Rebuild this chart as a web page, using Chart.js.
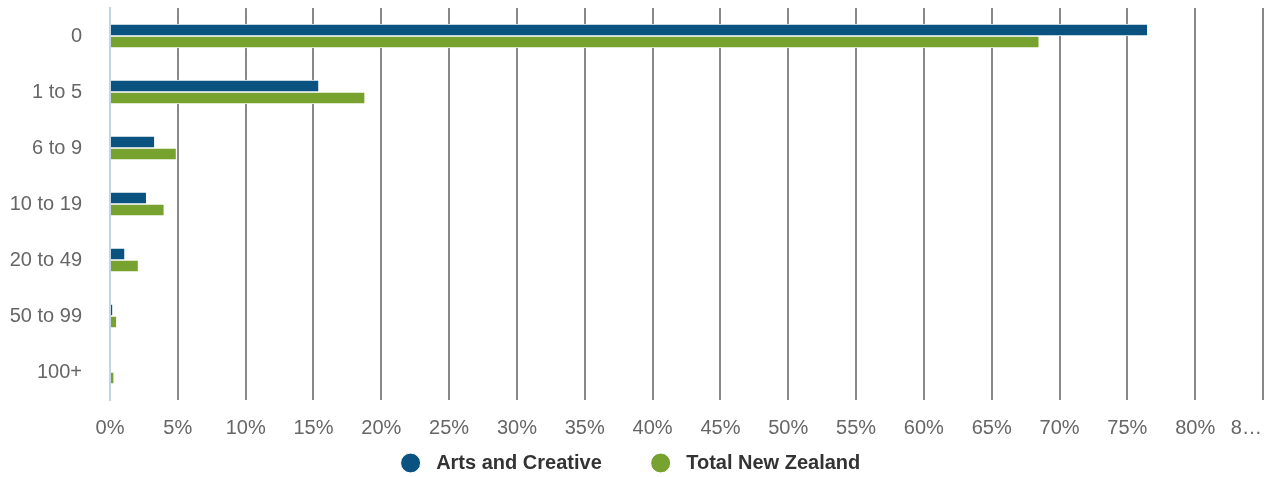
<!DOCTYPE html>
<html>
<head>
<meta charset="utf-8">
<script src="https://cdn.jsdelivr.net/npm/chart.js@4/dist/chart.umd.min.js"></script>
<style>
  html, body { margin: 0; padding: 0; background: #fff; }
  #wrap { width: 1267px; height: 477px; position: relative; }
</style>
</head>
<body>
<div id="wrap"><canvas id="barChart"></canvas></div>
<script>
const categories = ['0', '1 to 5', '6 to 9', '10 to 19', '20 to 49', '50 to 99', '100+'];
const artsCreative = [76.5, 15.4, 3.3, 2.7, 1.1, 0.2, 0];
const totalNZ = [68.5, 18.8, 4.9, 4.0, 2.1, 0.5, 0.3];
const tickLabels = ['0%', '5%', '10%', '15%', '20%', '25%', '30%', '35%', '40%',
                    '45%', '50%', '55%', '60%', '65%', '70%', '75%', '80%', '8\u2026      '];

const blue = '#0a5380';
const green = '#78a22f';
const fontFamily = 'Arial, "Liberation Sans", sans-serif';

const ctx = document.getElementById('barChart').getContext('2d');
const barChart = new Chart(ctx, {
  type: 'bar',
  data: {
    labels: categories,
    datasets: [
      {
        label: 'Arts and Creative',
        data: artsCreative,
        backgroundColor: blue,
        borderColor: '#fff',
        borderWidth: 1,
        barThickness: 12
      },
      {
        label: 'Total New Zealand',
        data: totalNZ,
        backgroundColor: green,
        borderColor: '#fff',
        borderWidth: 1,
        barThickness: 12
      }
    ]
  },
  options: {
    indexAxis: 'y',
    responsive: true,
    maintainAspectRatio: false,
    animation: false,
    layout: { padding: { top: 8, left: 9, right: 4, bottom: -6 } },
    plugins: {
      tooltip: { enabled: false },
      legend: {
        position: 'bottom',
        labels: {
          usePointStyle: true,
          pointStyle: 'circle',
          pointStyleWidth: 20,
          boxHeight: 14,
          padding: 10,
          color: '#333',
          font: { family: fontFamily, size: 20, weight: 'bold' },
          generateLabels: chart => {
            // spaces mimic the wider gaps of the original legend
            const items = Chart.defaults.plugins.legend.labels.generateLabels(chart);
            items.forEach((it, i) => {
              it.text = ' ' + it.text + (i < items.length - 1 ? '       ' : '  ');
            });
            return items;
          }
        }
      }
    },
    scales: {
      x: {
        min: 0,
        max: 85,
        ticks: {
          stepSize: 5,
          padding: 16,
          color: '#666',
          maxRotation: 0,
          autoSkip: false,
          font: { family: fontFamily, size: 20 },
          callback: (v, i) => tickLabels[i]
        },
        grid: {
          drawTicks: false,
          lineWidth: 2,
          color: c => (c.tick && c.tick.value === 0) ? 'rgba(0,0,0,0)' : '#888'
        },
        border: { display: false },
        afterFit: s => { s.paddingRight = 0; s.paddingLeft = 0; s.height = 43; }
      },
      y: {
        ticks: {
          padding: 28,
          color: '#666',
          font: { family: fontFamily, size: 20 }
        },
        grid: { display: false, drawTicks: false, tickLength: 0 },
        border: { display: true, color: '#c5d3ea', width: 2, z: 1 },
        afterFit: s => { s.width = 101; s.paddingTop = 0; s.paddingBottom = 0; }
      }
    }
  }
});
</script>
</body>
</html>
